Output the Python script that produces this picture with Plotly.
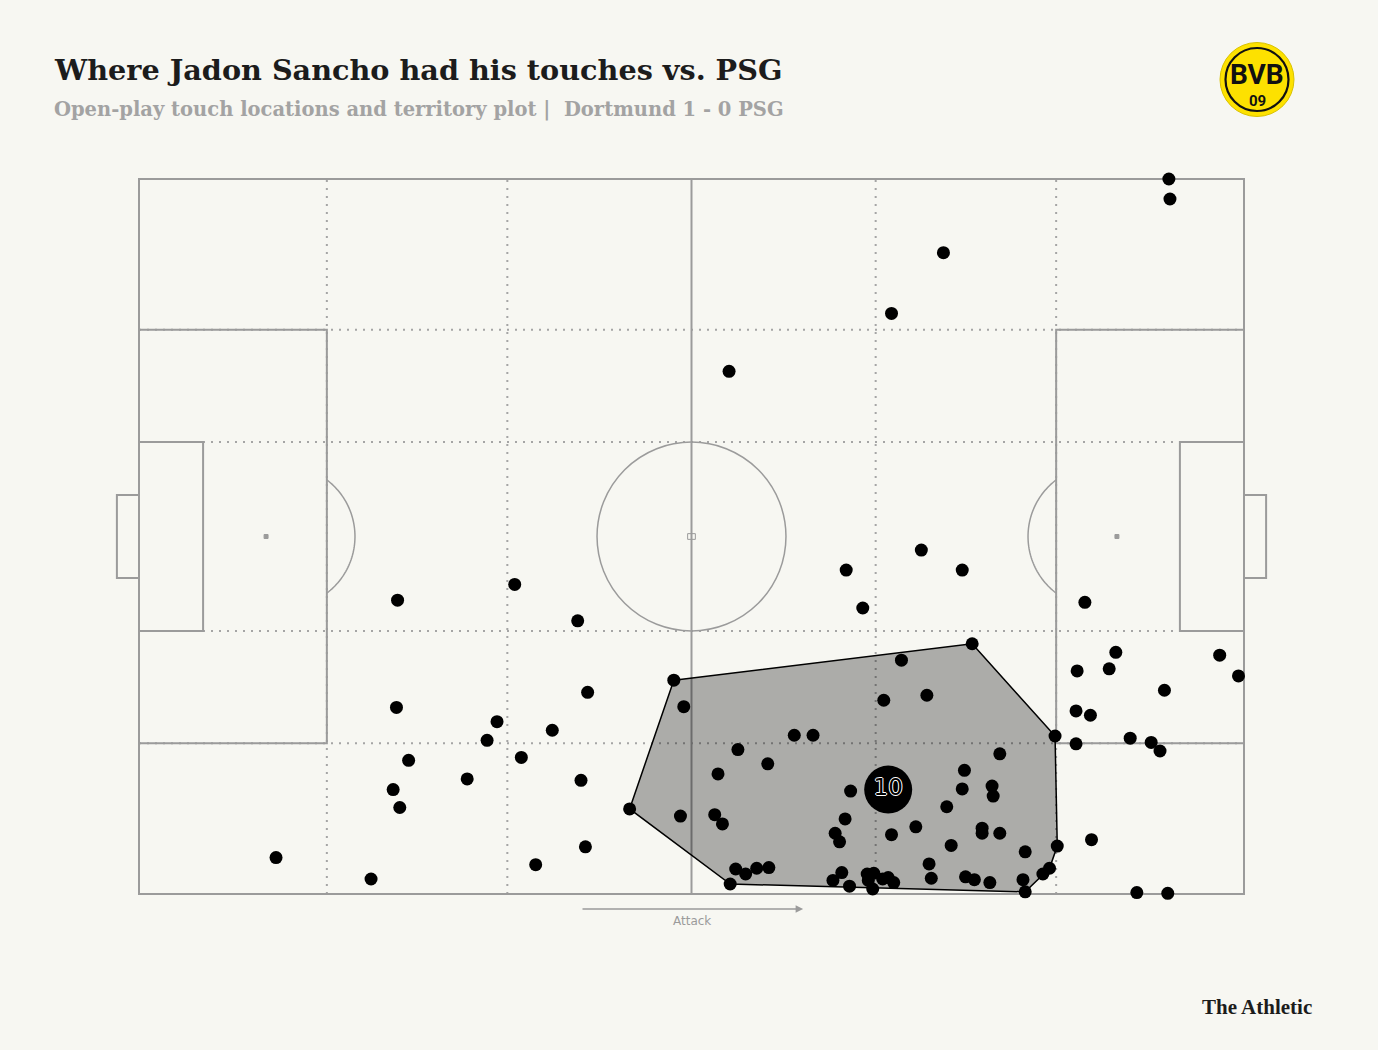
import numpy as np
import plotly.graph_objects as go

# ---------------- data (Opta pitch units, 0-100; attack left -> right) -------------
touch_x = [48.4, 75.4, 69.0, 49.3, 67.4, 71.3, 82.9, 59.3, 61.0, 54.2,
           56.9, 52.4, 77.9, 74.7, 74.5, 77.2, 77.3, 64.4, 44.4, 49.0,
           52.1, 52.8, 73.1, 63.9, 63.0, 63.4, 68.1, 70.3, 76.3, 76.3,
           77.9, 73.5, 83.1, 80.2, 71.5, 54.0, 54.9, 55.9, 57.0, 53.5,
           63.6, 62.8, 64.3, 65.9, 66.5, 66.0, 66.4, 67.3, 67.8, 68.3,
           71.7, 74.8, 75.6, 77.0, 80.0, 80.2, 81.8, 82.4,
           85.6, 88.4, 84.9, 87.8, 97.8, 99.5, 92.8, 84.8, 86.1, 84.8,
           89.7, 91.6, 92.4, 86.2, 90.3, 93.1,
           23.4, 34.0, 39.7, 23.3, 32.4, 31.5, 37.4, 40.6, 24.4, 34.6,
           29.7, 40.0, 23.0, 23.6, 40.4, 35.9, 12.4, 21.0,
           93.2, 93.3, 72.8, 68.1, 53.4,
           70.8, 64.0, 74.5, 65.5]
touch_y = [29.9, 35.0, 32.7, 26.2, 27.1, 27.8, 22.1, 22.2, 22.2, 20.2,
           18.2, 16.8, 19.6, 17.3, 14.7, 15.1, 13.7, 14.4, 11.9, 10.9,
           11.1, 9.8, 12.2, 10.5, 8.5, 7.3, 8.3, 9.4, 9.2, 8.5,
           8.5, 6.8, 6.7, 5.9, 4.2, 3.5, 2.8, 3.6, 3.7, 1.4,
           3.0, 1.9, 1.1, 2.8, 2.9, 1.9, 0.7, 2.1, 2.3, 1.6,
           2.2, 2.4, 2.0, 1.6, 2.0, 0.3, 2.8, 3.6,
           40.8, 33.8, 31.2, 31.5, 33.4, 30.5, 28.5, 25.6, 25.0, 21.0,
           21.8, 21.2, 20.0, 7.6, 0.2, 0.1,
           41.1, 43.3, 38.2, 26.1, 24.1, 21.5, 22.9, 28.2, 18.7, 19.1,
           16.1, 15.9, 14.6, 12.1, 6.6, 4.1, 5.1, 2.1,
           100.0, 97.2, 89.7, 81.2, 73.1,
           48.1, 45.3, 45.3, 40.0]
# touches that form the territory (convex hull) outline, in drawing order
territory_hull = [0, 1, 6, 32, 57, 55, 39, 18]
avg_x, avg_y = 67.8, 14.6
shirt_number = "10"

title = "Where Jadon Sancho had his touches vs. PSG"
subtitle = "Open-play touch locations and territory plot |  Dortmund 1 - 0 PSG"
direction_label = "Attack"
brand = "The Athletic"
crest_name, crest_year = "BVB", "09"

# ---------------- layout geometry -------------
W, H = 1378, 1050
PX0, PX1 = 139, 1244      # pixel of x=0 / x=100
PY0, PY1 = 894, 179       # pixel of y=0 / y=100
L, R, T, B = 20, 1358, 140, 960
sx = (PX1 - PX0) / 100.0
sy = (PY0 - PY1) / 100.0
xr = [(L - PX0) / sx, (R - PX0) / sx]
yr = [(PY0 - B) / sy, (PY0 - T) / sy]


def pxp(x):
    return (x - L) / (R - L)


def pyp(y):
    return (B - y) / (B - T)


BG = "#f7f7f2"
LINE = "#9b9b9b"
DOTC = "#a5a5a5"
shapes = []


def seg(x0, y0, x1, y1, dash=None, color=LINE, w=2):
    shapes.append(dict(type="line", xref="x", yref="y", x0=x0, y0=y0, x1=x1, y1=y1,
                       line=dict(color=color, width=w, dash=dash), layer="below"))


def box(x0, y0, x1, y1, w=2, fill=None):
    shapes.append(dict(type="rect", xref="x", yref="y", x0=x0, y0=y0, x1=x1, y1=y1,
                       line=dict(color=LINE, width=w),
                       fillcolor=fill if fill else "rgba(0,0,0,0)", layer="below"))


# dotted positional grid
for xv in [17, 100 / 3, 200 / 3, 83]:
    seg(xv, 0, xv, 100, dash="2px,6px", color=DOTC)
for yv in [21.1, 36.8, 63.2, 78.9]:
    seg(0, yv, 100, yv, dash="2px,6px", color=DOTC)

# pitch markings
box(0, 0, 100, 100)
seg(50, 0, 50, 100)
box(0, 21.1, 17, 78.9)
box(83, 21.1, 100, 78.9)
box(0, 36.8, 5.8, 63.2)
box(94.2, 36.8, 100, 63.2)
box(-2, 44.2, 0, 55.8)
box(100, 44.2, 102, 55.8)
shapes.append(dict(type="circle", xref="x", yref="y", x0=41.45, x1=58.55, y0=36.8, y1=63.2,
                   line=dict(color=LINE, width=1.5), layer="below"))
box(49.65, 49.6, 50.35, 50.4, w=1)
box(11.32, 49.72, 11.68, 50.28, w=1, fill=LINE)
box(88.32, 49.72, 88.68, 50.28, w=1, fill=LINE)

# penalty arcs
arc_rx, arc_ry = 71 / sx, 71 / sy
lim = np.arccos((17 - 13.12) / arc_rx)
th = np.linspace(-lim, lim, 60)
for cx, sgn in [(13.12, 1), (86.88, -1)]:
    xs = cx + sgn * arc_rx * np.cos(th)
    ys = 50 + arc_ry * np.sin(th)
    path = "M " + " L ".join(f"{a:.3f},{b:.3f}" for a, b in zip(xs, ys))
    shapes.append(dict(type="path", xref="x", yref="y", path=path,
                       line=dict(color=LINE, width=1.5), layer="below"))

# BVB crest (paper coordinates built from pixel positions)
cx0, cy0 = 1257, 79.5
for r, fill, lc, lw in [(37, "#fde100", "#d9c200", 1), (31.5, "rgba(0,0,0,0)", "#111111", 2.2)]:
    shapes.append(dict(type="circle", xref="paper", yref="paper",
                       x0=pxp(cx0 - r), x1=pxp(cx0 + r), y0=pyp(cy0 + r), y1=pyp(cy0 - r),
                       fillcolor=fill, line=dict(color=lc, width=lw), layer="above"))

fig = go.Figure()

hx = [touch_x[i] for i in territory_hull] + [touch_x[territory_hull[0]]]
hy = [touch_y[i] for i in territory_hull] + [touch_y[territory_hull[0]]]
fig.add_trace(go.Scatter(x=hx, y=hy, mode="lines", fill="toself",
                         fillcolor="rgba(0,0,0,0.30)", line=dict(color="#000000", width=1.5),
                         hoverinfo="skip"))
fig.add_trace(go.Scatter(x=touch_x, y=touch_y, mode="markers",
                         marker=dict(size=13, color="#000000", line=dict(width=0)),
                         cliponaxis=False))
fig.add_trace(go.Scatter(x=[avg_x], y=[avg_y], mode="markers+text", text=[shirt_number],
                         textposition="middle center",
                         marker=dict(size=48, color="#000000", line=dict(width=0)),
                         textfont=dict(family="DejaVu Sans", size=23, color="#000000",
                                       shadow="1px 0 0 #fff, -1px 0 0 #fff, 0 1px 0 #fff, 0 -1px 0 #fff"),
                         cliponaxis=False))

ann = []
ann.append(dict(x=pxp(52), y=pyp(70), xref="paper", yref="paper", xanchor="left", yanchor="middle",
                text=f"<b>{title}</b>", showarrow=False,
                font=dict(family="DejaVu Serif", size=28.7, color="#1c1c1c")))
ann.append(dict(x=pxp(52), y=pyp(110), xref="paper", yref="paper", xanchor="left", yanchor="middle",
                text=f"<b>{subtitle}</b>", showarrow=False,
                font=dict(family="DejaVu Serif", size=19.5, color="#a3a3a3")))
ann.append(dict(x=pxp(1314), y=pyp(1007), xref="paper", yref="paper", xanchor="right", yanchor="middle",
                text=f"<b>{brand}</b>", showarrow=False,
                font=dict(family="Liberation Serif", size=21, color="#1c1c1c")))
# attack direction arrow
ann.append(dict(x=60.1, y=-2.1, ax=40.0, ay=-2.1, xref="x", yref="y", axref="x", ayref="y",
                text="", showarrow=True, arrowhead=2, arrowsize=1, arrowwidth=1.5,
                arrowcolor=LINE))
ann.append(dict(x=50, y=-3.8, xref="x", yref="y", text=direction_label, showarrow=False,
                font=dict(family="DejaVu Sans", size=12, color=LINE)))
# crest lettering
ann.append(dict(x=pxp(1257), y=pyp(75), xref="paper", yref="paper", xanchor="center", yanchor="middle",
                text=f"<b>{crest_name}</b>", showarrow=False, borderpad=0,
                font=dict(family="Roboto", size=28, color="#111111")))
ann.append(dict(x=pxp(1257), y=pyp(101), xref="paper", yref="paper", xanchor="center", yanchor="middle",
                text=f"<b>{crest_year}</b>", showarrow=False, borderpad=0,
                font=dict(family="Roboto", size=15, color="#111111")))

fig.update_layout(
    width=W, height=H,
    margin=dict(l=L, r=W - R, t=T, b=H - B, autoexpand=False),
    paper_bgcolor=BG, plot_bgcolor=BG,
    showlegend=False,
    shapes=shapes, annotations=ann,
    xaxis=dict(range=xr, visible=False, fixedrange=True),
    yaxis=dict(range=yr, visible=False, fixedrange=True),
    hovermode=False,
)

fig.write_html("out.html", config={"displayModeBar": False},
               post_script="document.body.style.margin='0px';")
